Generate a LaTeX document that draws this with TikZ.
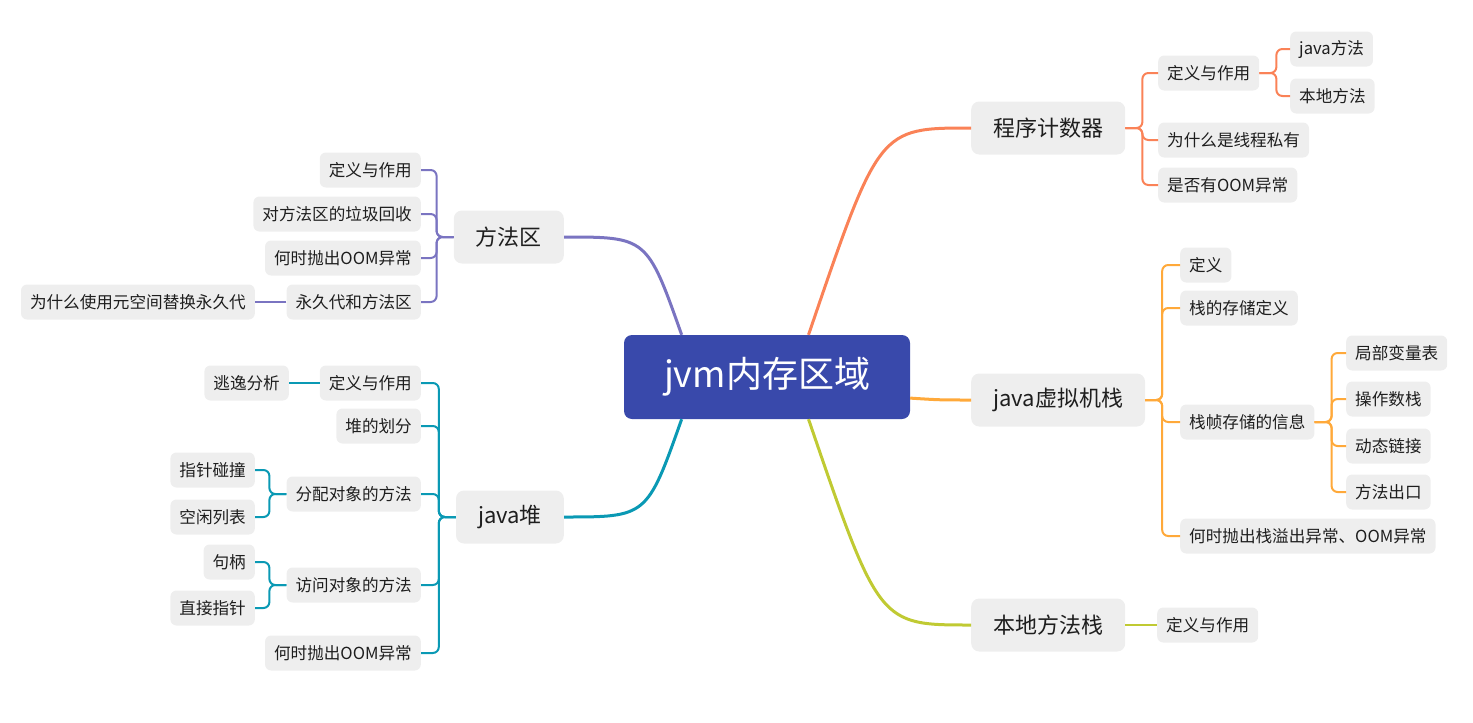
\documentclass[tikz,border=0pt]{standalone}
\usepackage{fontspec}
\setmainfont{Noto Sans CJK SC}
\usepackage{tikz}
\usetikzlibrary{positioning, calc}

\definecolor{rootblue}{HTML}{3949AB}
\definecolor{nodegray}{HTML}{EEEEEE}
\definecolor{textdark}{HTML}{1E1E1E}
\definecolor{pcorange}{HTML}{FA8257}
\definecolor{vmorange}{HTML}{FFA93A}
\definecolor{nativelime}{HTML}{C0CA33}
\definecolor{methodpurple}{HTML}{7A74C1}
\definecolor{heapteal}{HTML}{0A99B4}

\begin{document}
\begin{tikzpicture}[
    x=1pt, y=-1pt,
    every edge/.style={draw, line width=2pt, rounded corners=6pt},
    branchR/.style={to path={-- ++(17,0) |- (\tikztotarget) \tikztonodes}},
    branchL/.style={to path={-- ++(-17,0) |- (\tikztotarget) \tikztonodes}},
    mainline/.style={draw, line width=3pt},
    pcline/.style={draw=pcorange},
    vmline/.style={draw=vmorange},
    nativeline/.style={draw=nativelime},
    methodline/.style={draw=methodpurple},
    heapline/.style={draw=heapteal},
    rootbox/.style={fill=rootblue, text=white, rounded corners=8pt, minimum height=84pt, inner xsep=40pt, inner ysep=0pt, font=\fontsize{36}{42}\selectfont},
    topic/.style={fill=nodegray, text=textdark, rounded corners=8pt, minimum height=53pt, inner xsep=22pt, inner ysep=0pt, font=\fontsize{22}{26}\selectfont},
    sub/.style={fill=nodegray, text=textdark, rounded corners=6pt, minimum height=35pt, inner xsep=9pt, inner ysep=0pt, font=\fontsize{16.6}{19}\selectfont}]

    \useasboundingbox (0,0) rectangle (1473,723);

    \node at (767,377)[rootbox] (root) {jvm内存区域};

    %%% Right side
    \node at (971,128)[topic, anchor=west] (pc) {程序计数器};
    \node at (971,400)[topic, anchor=west] (vms) {java虚拟机栈};
    \node at (971,625)[topic, anchor=west] (nms) {本地方法栈};

    \node at (1158,73)[sub, anchor=west] (pcdef) {定义与作用};
    \node at (1158,140)[sub, anchor=west] (pcwhy) {为什么是线程私有};
    \node at (1158,185)[sub, anchor=west] (pcoom) {是否有OOM异常};
    \node at (1290,49)[sub, anchor=west] (pcjava) {java方法};
    \node at (1290,96)[sub, anchor=west] (pcnative) {本地方法};

    \node at (1180,265)[sub, anchor=west] (vmsdef) {定义};
    \node at (1180,308)[sub, anchor=west] (vmsstore) {栈的存储定义};
    \node at (1180,422)[sub, anchor=west] (vmsframe) {栈帧存储的信息};
    \node at (1180,536)[sub, anchor=west] (vmsoom) {何时抛出栈溢出异常、OOM异常};
    \node at (1346,353)[sub, anchor=west] (locals) {局部变量表};
    \node at (1346,399)[sub, anchor=west] (operand) {操作数栈};
    \node at (1346,446)[sub, anchor=west] (dynlink) {动态链接};
    \node at (1346,492)[sub, anchor=west] (retaddr) {方法出口};

    \node at (1157,625)[sub, anchor=west] (nmsdef) {定义与作用};

    %%% Left side
    \node at (564,237)[topic, anchor=east] (method) {方法区};
    \node at (564,517)[topic, anchor=east] (heap) {java堆};

    \node at (421,170)[sub, anchor=east] (methoddef) {定义与作用};
    \node at (421,214)[sub, anchor=east] (methodgc) {对方法区的垃圾回收};
    \node at (421,258)[sub, anchor=east] (methodoom) {何时抛出OOM异常};
    \node at (421,302)[sub, anchor=east] (methodperm) {永久代和方法区};
    \node at (255,302)[sub, anchor=east] (methodmeta) {为什么使用元空间替换永久代};

    \node at (421,383)[sub, anchor=east] (heapdef) {定义与作用};
    \node at (289,383)[sub, anchor=east] (escape) {逃逸分析};
    \node at (421,426)[sub, anchor=east] (heapdiv) {堆的划分};
    \node at (421,494)[sub, anchor=east] (alloc) {分配对象的方法};
    \node at (255,470)[sub, anchor=east] (bump) {指针碰撞};
    \node at (255,517)[sub, anchor=east] (freelist) {空闲列表};
    \node at (421,585)[sub, anchor=east] (access) {访问对象的方法};
    \node at (255,562)[sub, anchor=east] (handle) {句柄};
    \node at (255,608)[sub, anchor=east] (direct) {直接指针};
    \node at (421,653)[sub, anchor=east] (heapoom) {何时抛出OOM异常};

    %%% Main branches from the root
    \draw[mainline, pcline] ($(root.north west)!0.645!(root.north east)$) .. controls (879,128) .. (pc.west);
    \draw[mainline, vmline] ($(root.north east)!0.75!(root.south east)$) .. controls (940,400) .. (vms.west);
    \draw[mainline, nativeline] ($(root.south west)!0.645!(root.south east)$) .. controls (879,625) .. (nms.west);
    \draw[mainline, methodline] ($(root.north west)!0.202!(root.north east)$) .. controls (647,237) .. (method.east);
    \draw[mainline, heapline] ($(root.south west)!0.202!(root.south east)$) .. controls (647,517) .. (heap.east);

    %%% Sub branches
    \path (pc.east) edge [branchR, pcline] (pcdef.west);
    \path (pc.east) edge [branchR, pcline] (pcwhy.west);
    \path (pc.east) edge [branchR, pcline] (pcoom.west);
    \path (pcdef.east) edge [branchR, pcline] (pcjava.west);
    \path (pcdef.east) edge [branchR, pcline] (pcnative.west);

    \path (vms.east) edge [branchR, vmline] (vmsdef.west);
    \path (vms.east) edge [branchR, vmline] (vmsstore.west);
    \path (vms.east) edge [branchR, vmline] (vmsframe.west);
    \path (vms.east) edge [branchR, vmline] (vmsoom.west);
    \path (vmsframe.east) edge [branchR, vmline] (locals.west);
    \path (vmsframe.east) edge [branchR, vmline] (operand.west);
    \path (vmsframe.east) edge [branchR, vmline] (dynlink.west);
    \path (vmsframe.east) edge [branchR, vmline] (retaddr.west);

    \path (nms.east) edge [nativeline] (nmsdef.west);

    \path (method.west) edge [branchL, methodline] (methoddef.east);
    \path (method.west) edge [branchL, methodline] (methodgc.east);
    \path (method.west) edge [branchL, methodline] (methodoom.east);
    \path (method.west) edge [branchL, methodline] (methodperm.east);
    \path (methodperm.west) edge [methodline] (methodmeta.east);

    \path (heap.west) edge [branchL, heapline] (heapdef.east);
    \path (heap.west) edge [branchL, heapline] (heapdiv.east);
    \path (heap.west) edge [branchL, heapline] (alloc.east);
    \path (heap.west) edge [branchL, heapline] (access.east);
    \path (heap.west) edge [branchL, heapline] (heapoom.east);
    \path (heapdef.west) edge [heapline] (escape.east);
    \path (alloc.west) edge [branchL, heapline] (bump.east);
    \path (alloc.west) edge [branchL, heapline] (freelist.east);
    \path (access.west) edge [branchL, heapline] (handle.east);
    \path (access.west) edge [branchL, heapline] (direct.east);

\end{tikzpicture}
\end{document}
